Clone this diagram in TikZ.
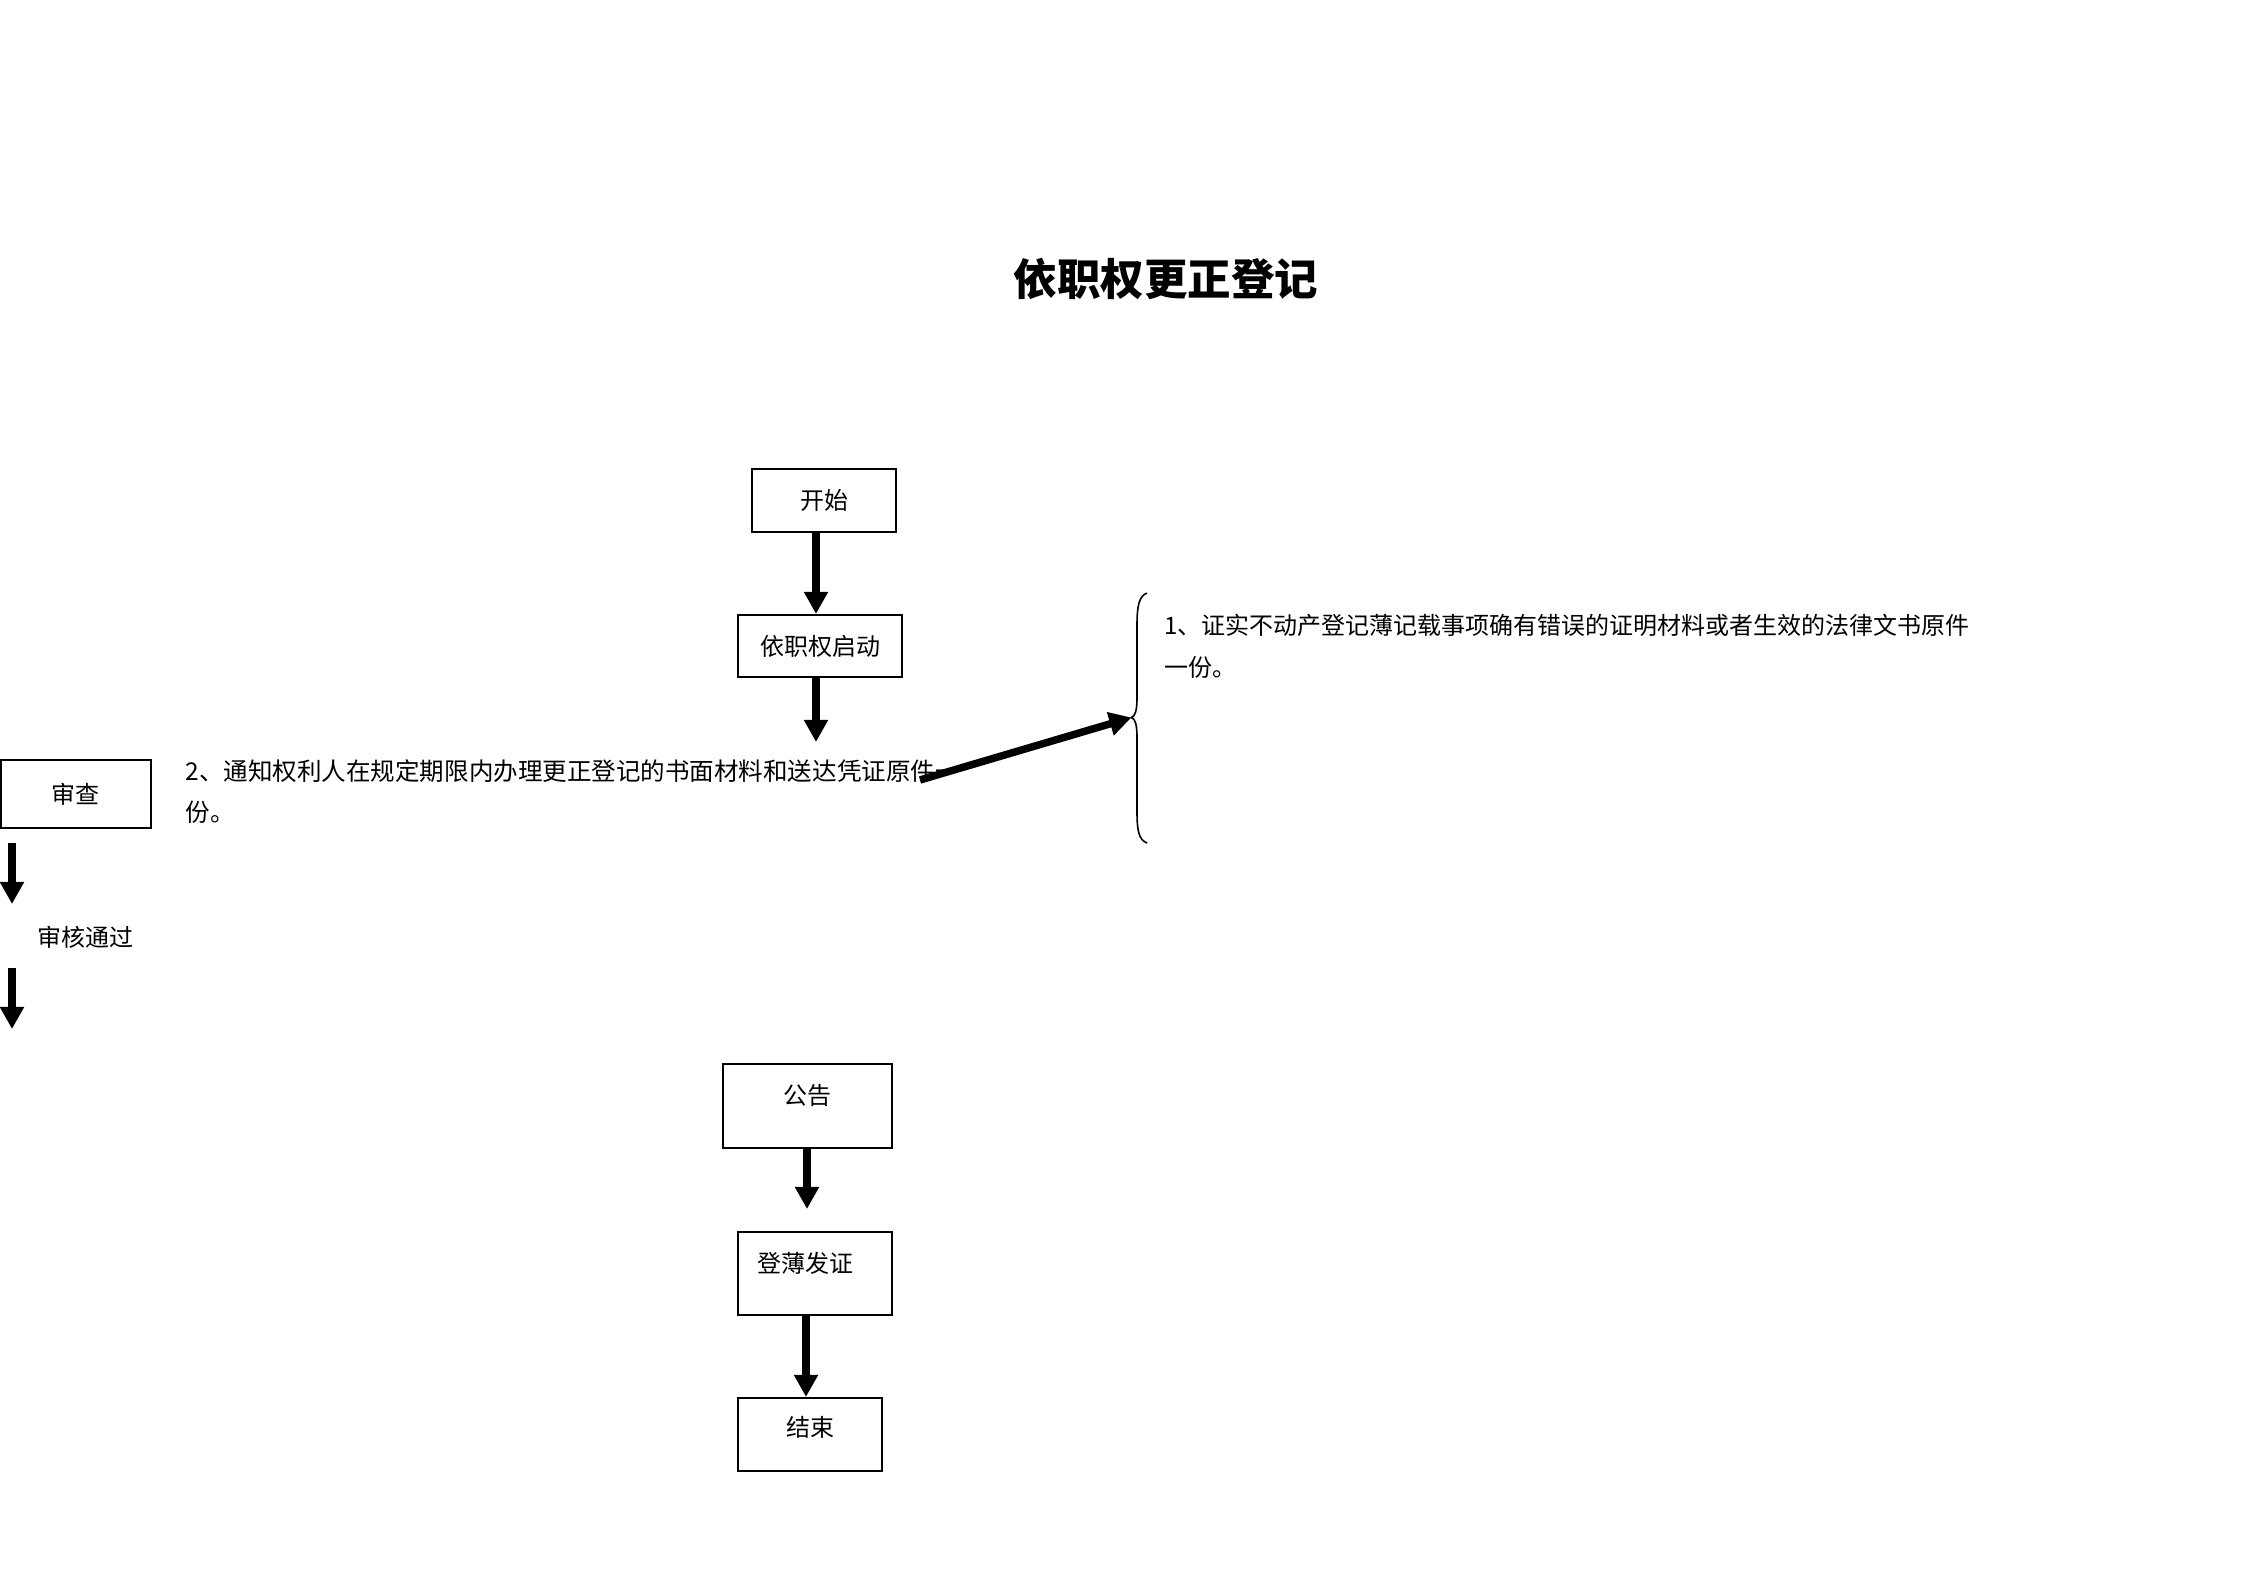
\documentclass[tikz,border=0pt]{standalone}
\usepackage{fontspec}
\setmainfont{Noto Sans CJK SC}
\usetikzlibrary{arrows.meta}
\begin{document}
\begin{tikzpicture}[x=0.375pt,y=-0.375pt,
  box/.style={draw,line width=0.8pt,inner sep=0pt,font=\fontsize{9}{11}\selectfont},
  lbl/.style={inner sep=0pt,anchor=west,font=\fontsize{9}{11}\selectfont},
  arr/.style={line width=2.8pt,-{Triangle[width=8.6pt,length=8.3pt]}},
  bracestyle/.style={line width=0.6pt}]
\path[fill=white] (0,0) rectangle (2245,1587);
\useasboundingbox (0,0) rectangle (2245,1587);

\node[font=\bfseries\fontsize{16.3}{20}\selectfont] (title) at (1166,279) {依职权更正登记};

\node[box,minimum width=54pt,minimum height=23.6pt] (start) at (824,500.5) {开始};
\node[box,minimum width=61.5pt,minimum height=23.25pt] (init) at (820,646) {依职权启动};
\node[box,minimum width=56.25pt,minimum height=25.5pt] (review) at (76,794) {审查};
\node[box,minimum width=63.4pt,text height=15pt,text depth=16.5pt] (notice) at (807.5,1106) {公告};
\node[box,minimum width=57.75pt,text height=15pt,text depth=16.1pt] (reg) at (815,1273.5) {登薄发证\kern6.8pt\relax};
\node[box,minimum width=54pt,text height=14.6pt,text depth=12.8pt] (finish) at (810,1434.5) {结束};

\node[lbl] (t1a) at (1164,625) {1、证实不动产登记薄记载事项确有错误的证明材料或者生效的法律文书原件};
\node[lbl] (t1b) at (1164,667) {一份。};
\node[lbl,font=\fontsize{9.2}{11}\selectfont] (t2a) at (185,771) {2、通知权利人在规定期限内办理更正登记的书面材料和送达凭证原件一};
\node[lbl,font=\fontsize{9.2}{11}\selectfont] (t2b) at (185,812) {份。};
\node[lbl] (pass) at (37,937) {审核通过};

% brace
\coordinate (bt) at (1131.5,717.5);
\draw[bracestyle] (1147,593) .. controls (1139,596) and (1137,606) .. (1137,625) -- (1137,698)
  .. controls (1137,711) and (1135,716) .. (bt)
  .. controls (1135,719) and (1137,724) .. (1137,737) -- (1137,812)
  .. controls (1137,831) and (1139,840) .. (1147,843);

% arrows
\coordinate (a1) at (816,0);
\draw[arr] (start.south -| a1) -- (init.north -| a1);
\coordinate (a2) at (816,742);
\draw[arr] (init.south -| a2) -- (a2);
\coordinate (d1) at (920,780);
\draw[arr] (d1) -- (bt);
\coordinate (l1s) at (12,843);
\coordinate (l1e) at (12,904);
\draw[arr] (l1s) -- (l1e);
\coordinate (l2s) at (12,968);
\coordinate (l2e) at (12,1029);
\draw[arr] (l2s) -- (l2e);
\coordinate (a4) at (807,1209);
\draw[arr] (notice.south -| a4) -- (a4);
\coordinate (a5) at (806,0);
\draw[arr] (reg.south -| a5) -- (finish.north -| a5);
\end{tikzpicture}
\end{document}
